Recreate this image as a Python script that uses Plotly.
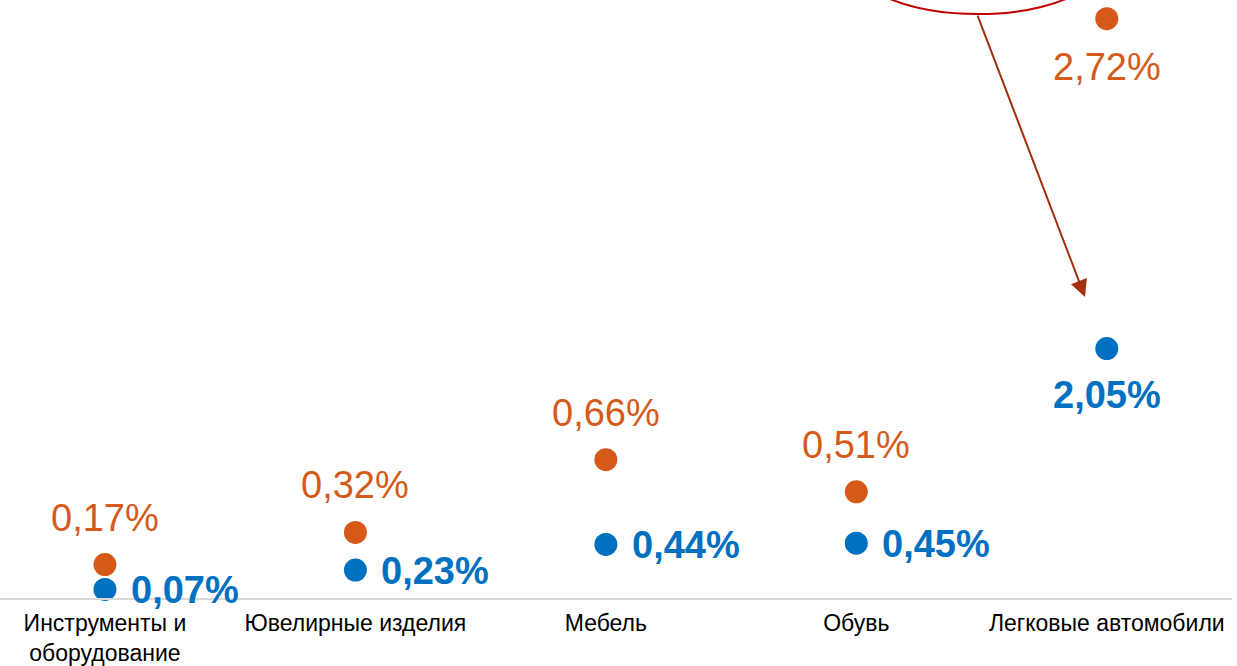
import plotly.graph_objects as go

categories = ["Инструменты и<br>оборудование", "Ювелирные изделия", "Мебель", "Обувь", "Легковые автомобили"]
orange_values = [0.17, 0.32, 0.66, 0.51, 2.72]
blue_values = [0.07, 0.23, 0.44, 0.45, 2.05]

ORANGE = "#D55A1A"
BLUE = "#0070C0"
FONT = "Liberation Sans, Arial, sans-serif"

def fmt(v):
    return f"{v:.2f}%".replace(".", ",")

fig = go.Figure()
fig.add_trace(go.Scatter(x=categories, y=orange_values, yaxis="y2", mode="markers",
                         marker=dict(size=23, color=ORANGE), cliponaxis=False, showlegend=False))
fig.add_trace(go.Scatter(x=categories, y=blue_values, yaxis="y", mode="markers",
                         marker=dict(size=23, color=BLUE), cliponaxis=False, showlegend=False))

annotations = []
n = len(categories)
for i, (c, v) in enumerate(zip(categories, orange_values)):
    last = i == n - 1
    annotations.append(dict(x=c, y=v, xref="x", yref="y2", text=fmt(v), showarrow=False,
                            font=dict(family=FONT, size=38, color=ORANGE),
                            yshift=-48 if last else 47))
for i, (c, v) in enumerate(zip(categories, blue_values)):
    last = i == n - 1
    if last:
        annotations.append(dict(x=c, y=v, xref="x", yref="y", text="<b>" + fmt(v) + "</b>", showarrow=False,
                                font=dict(family=FONT, size=38, color=BLUE), yshift=-46))
    else:
        annotations.append(dict(x=c, y=v, xref="x", yref="y", text="<b>" + fmt(v) + "</b>", showarrow=False,
                                font=dict(family=FONT, size=38, color=BLUE), xanchor="left",
                                xshift=24, yshift=-1))

# callout arrow from the ellipse to the last blue point
annotations.append(dict(x=0.8807, y=0.5033, xref="paper", yref="paper", text="", showarrow=True,
                        ax=-108, ay=-283, arrowcolor="#A5300F", arrowwidth=2, arrowhead=2,
                        arrowsize=1.7, standoff=0))

fig.update_layout(
    width=1237, height=666,
    margin=dict(l=0, r=5, t=0, b=68),
    paper_bgcolor="white", plot_bgcolor="white",
    font=dict(family=FONT, color="black"),
    xaxis=dict(type="category", range=[-0.419, 4.5], showline=True, linecolor="#D9D9D9",
               linewidth=1.5, showgrid=False, ticks="", ticklabelstandoff=4, automargin=False,
               tickfont=dict(size=23, color="black")),
    yaxis=dict(range=[0, 4.914], visible=False, automargin=False),
    yaxis2=dict(range=[0.014, 2.807], visible=False, overlaying="y", automargin=False),
    annotations=annotations,
    shapes=[dict(type="circle", xref="paper", yref="paper", x0=0.6907, x1=0.8969,
                 y0=0.9766, y1=1.157, line=dict(color="#C00000", width=2))],
)

fig.write_html("out.html", config={"displayModeBar": False},
               post_script="document.body.style.margin='0';document.body.style.overflow='hidden';")
